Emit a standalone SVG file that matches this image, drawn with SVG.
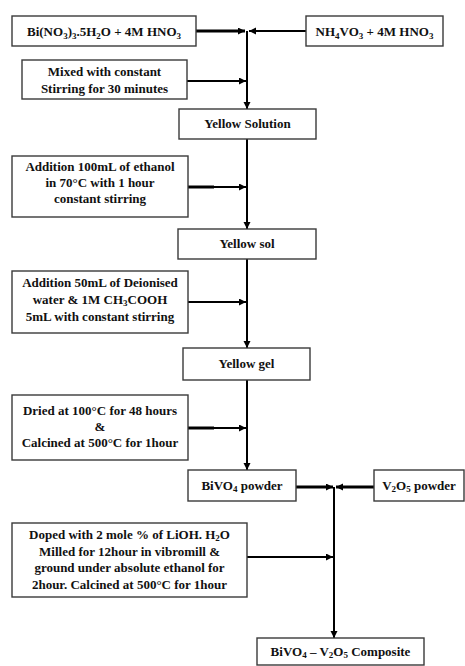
<svg xmlns="http://www.w3.org/2000/svg" width="465" height="666" viewBox="0 0 465 666">
<style>
.box{fill:#fff;stroke:#3a3a3a;stroke-width:1.4}
.t{font-family:"Liberation Serif","Times New Roman",serif;font-weight:bold;font-size:13px;fill:#111;text-anchor:middle}
.s{font-size:9px}
.c{stroke:#000;stroke-width:2;fill:none}
.k{stroke-width:3}
</style>
<defs>
<marker id="ah" markerUnits="userSpaceOnUse" markerWidth="8" markerHeight="8" refX="7" refY="3.5" orient="auto">
<path d="M0,0 L7,3.5 L0,7 z" fill="#000"/>
</marker>
</defs>
<rect width="465" height="666" fill="#fff"/>
<g id="connectors">
<line class="c k" x1="196" y1="31" x2="245" y2="31" marker-end="url(#ah)"/>
<line class="c" x1="306" y1="31" x2="249" y2="31" marker-end="url(#ah)"/>
<line class="c" x1="247" y1="31" x2="247" y2="109" marker-end="url(#ah)"/>
<line class="c" x1="187" y1="81" x2="246" y2="81" marker-end="url(#ah)"/>
<line class="c" x1="247" y1="139" x2="247" y2="229" marker-end="url(#ah)"/>
<line class="c" x1="188" y1="187" x2="246" y2="187" marker-end="url(#ah)"/>
<line class="c k" x1="188" y1="187" x2="214" y2="187"/>
<line class="c" x1="247" y1="259" x2="247" y2="348" marker-end="url(#ah)"/>
<line class="c" x1="188" y1="302" x2="246" y2="302" marker-end="url(#ah)"/>
<line class="c" x1="247" y1="380" x2="247" y2="470" marker-end="url(#ah)"/>
<line class="c" x1="188" y1="428" x2="246" y2="428" marker-end="url(#ah)"/>
<line class="c k" x1="188" y1="428" x2="214" y2="428"/>
<line class="c k" x1="296" y1="487" x2="333" y2="487" marker-end="url(#ah)"/>
<line class="c k" x1="374" y1="487" x2="336" y2="487" marker-end="url(#ah)"/>
<line class="c" x1="334" y1="487" x2="334" y2="638" marker-end="url(#ah)"/>
<line class="c" x1="247" y1="557" x2="333" y2="557" marker-end="url(#ah)"/>
</g>
<g id="n1">
<rect class="box" x="12" y="16" width="184" height="30"/>
<text class="t" x="104" y="36">Bi(NO<tspan class="s" dy="3">3</tspan><tspan dy="-3">)</tspan><tspan class="s" dy="3">3</tspan><tspan dy="-3">.5H</tspan><tspan class="s" dy="3">2</tspan><tspan dy="-3">O + 4M HNO</tspan><tspan class="s" dy="3">3</tspan></text>
</g>
<g id="n2">
<rect class="box" x="306" y="16" width="137" height="30"/>
<text class="t" x="374.5" y="36">NH<tspan class="s" dy="3">4</tspan><tspan dy="-3">VO</tspan><tspan class="s" dy="3">3</tspan><tspan dy="-3"> + 4M HNO</tspan><tspan class="s" dy="3">3</tspan></text>
</g>
<g id="n3">
<rect class="box" x="22" y="60" width="165" height="39"/>
<text class="t" x="104.5" y="76">Mixed with constant</text>
<text class="t" x="104.5" y="93">Stirring for 30 minutes</text>
</g>
<g id="n4">
<rect class="box" x="179" y="109" width="137" height="30"/>
<text class="t" x="247.5" y="128">Yellow Solution</text>
</g>
<g id="n5">
<rect class="box" x="12" y="156" width="176" height="61"/>
<text class="t" x="100" y="171">Addition 100mL of ethanol</text>
<text class="t" x="100" y="187">in 70°C with 1 hour</text>
<text class="t" x="100" y="203">constant stirring</text>
</g>
<g id="n6">
<rect class="box" x="178" y="229" width="138" height="30"/>
<text class="t" x="247" y="248">Yellow sol</text>
</g>
<g id="n7">
<rect class="box" x="12" y="271" width="176" height="62"/>
<text class="t" x="100" y="287">Addition 50mL of Deionised</text>
<text class="t" x="100" y="304">water &amp; 1M CH<tspan class="s" dy="2">3</tspan><tspan dy="-2">COOH</tspan></text>
<text class="t" x="100" y="321">5mL with constant stirring</text>
</g>
<g id="n8">
<rect class="box" x="183" y="348" width="127" height="32"/>
<text class="t" x="246.5" y="368">Yellow gel</text>
</g>
<g id="n9">
<rect class="box" x="12" y="395" width="176" height="65"/>
<text class="t" x="100" y="415">Dried at 100°C for 48 hours</text>
<text class="t" x="100" y="431">&amp;</text>
<text class="t" x="100" y="447">Calcined at 500°C for 1hour</text>
</g>
<g id="n10">
<rect class="box" x="188" y="470" width="108" height="31"/>
<text class="t" x="242" y="490">BiVO<tspan class="s" dy="2">4</tspan><tspan dy="-2"> powder</tspan></text>
</g>
<g id="n11">
<rect class="box" x="374" y="470" width="90" height="31"/>
<text class="t" x="419" y="490">V<tspan class="s" dy="2">2</tspan><tspan dy="-2">O</tspan><tspan class="s" dy="2">5</tspan><tspan dy="-2"> powder</tspan></text>
</g>
<g id="n12">
<rect class="box" x="12" y="523" width="235" height="74"/>
<text class="t" x="129.5" y="539">Doped with 2 mole % of LiOH. H<tspan class="s" dy="2">2</tspan><tspan dy="-2">O</tspan></text>
<text class="t" x="129.5" y="555.5">Milled for 12hour in vibromill &amp;</text>
<text class="t" x="129.5" y="572">ground under absolute ethanol for</text>
<text class="t" x="129.5" y="588.5">2hour. Calcined at 500°C for 1hour</text>
</g>
<g id="n13">
<rect class="box" x="257" y="638" width="167" height="27"/>
<text class="t" x="340.5" y="656">BiVO<tspan class="s" dy="2">4</tspan><tspan dy="-2"> – V</tspan><tspan class="s" dy="2">2</tspan><tspan dy="-2">O</tspan><tspan class="s" dy="2">5</tspan><tspan dy="-2"> Composite</tspan></text>
</g>
</svg>
